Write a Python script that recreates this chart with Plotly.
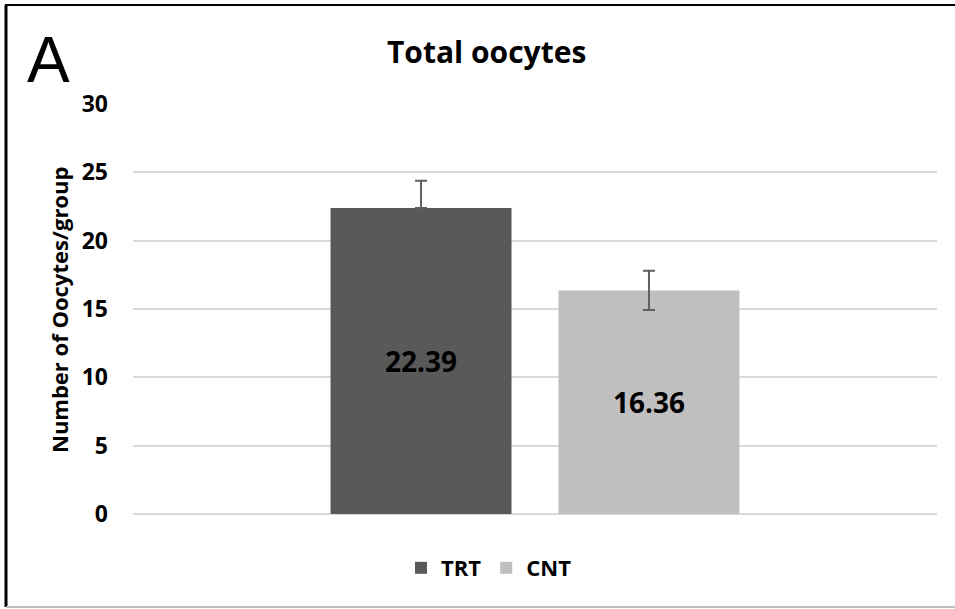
import plotly.graph_objects as go

categories = ["TRT", "CNT"]
means = [22.39, 16.36]
err_plus = [2.0, 1.43]
err_minus = [0.0, 1.43]
colors = ["#595959", "#BFBFBF"]
group_label = ["Total oocytes"]
y_ticks = [0, 5, 10, 15, 20, 25, 30]

FONT = "Open Sans"
W, H = 955, 609
L, R, T, B = 133, 18, 104, 95
pw, ph = W - L - R, H - T - B

def px2x(px):
    return (px - L) / pw

def px2y(py):
    return (H - B - py) / ph

fig = go.Figure()
for i, name in enumerate(categories):
    fig.add_trace(go.Bar(
        x=group_label, y=[means[i]], name=name,
        marker=dict(color=colors[i], line=dict(width=0)),
        text=[f"{means[i]:.2f}"], textposition="inside",
        insidetextanchor="middle", constraintext="none",
        textfont=dict(family=FONT, size=28, color="black", weight="bold"),
        error_y=dict(type="data", symmetric=False, array=[err_plus[i]],
                     arrayminus=[err_minus[i]], color="#5f5f5f",
                     thickness=2, width=6),
    ))

fig.update_layout(
    width=W, height=H,
    margin=dict(l=L, r=R, t=T, b=B),
    paper_bgcolor="white", plot_bgcolor="white",
    barmode="group", bargap=0.433, bargroupgap=0.206,
    showlegend=True,
    legend=dict(orientation="h", x=px2x(489), xanchor="center",
                y=px2y(568), yanchor="middle",
                font=dict(family=FONT, size=22, color="black", weight="bold"),
                itemclick=False, traceorder="normal"),
    xaxis=dict(showticklabels=False, showgrid=False, zeroline=False,
               showline=False, ticks=""),
    yaxis=dict(range=[0, 30], tickvals=y_ticks, showgrid=True,
               gridcolor="#D9D9D9", gridwidth=1.5, zeroline=True,
               zerolinecolor="#D9D9D9", zerolinewidth=1.5, showline=False,
               ticks="", ticklabelstandoff=24,
               tickfont=dict(family=FONT, size=23, color="black", weight="bold")),
    font=dict(family=FONT, color="black"),
    annotations=[
        dict(text="Total oocytes", xref="paper", yref="paper",
             x=px2x(486), y=px2y(51), xanchor="center", yanchor="middle",
             showarrow=False,
             font=dict(family=FONT, size=30, color="black", weight="bold")),
        dict(text="A", xref="paper", yref="paper",
             x=px2x(48), y=px2y(60), xanchor="center", yanchor="middle",
             showarrow=False,
             font=dict(family="Liberation Sans", size=64, color="black")),
        dict(text="Number of Oocytes/group", xref="paper", yref="paper",
             x=px2x(59), y=px2y(310), xanchor="center", yanchor="middle",
             textangle=-90, showarrow=False,
             font=dict(family=FONT, size=22, color="black", weight="bold")),
    ],
    shapes=[
        dict(type="line", xref="paper", yref="paper",
             x0=px2x(5), x1=px2x(955), y0=px2y(5), y1=px2y(5),
             line=dict(color="black", width=2)),
        dict(type="line", xref="paper", yref="paper",
             x0=px2x(6), x1=px2x(6), y0=px2y(5), y1=px2y(607),
             line=dict(color="black", width=3)),
        dict(type="line", xref="paper", yref="paper",
             x0=px2x(6), x1=px2x(955), y0=px2y(607), y1=px2y(607),
             line=dict(color="#BFBFBF", width=2)),
    ],
)

fig.write_html("out.html", config={"displayModeBar": False},
               post_script="document.body.style.margin='0';document.body.style.overflow='hidden';")
